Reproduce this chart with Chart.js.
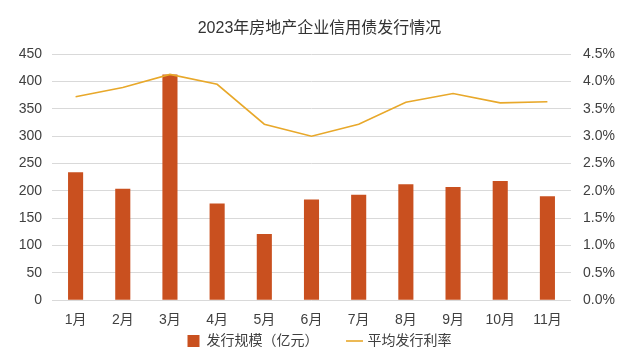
<!DOCTYPE html>
<html><head><meta charset="utf-8">
<script src="https://cdn.jsdelivr.net/npm/chart.js@4"></script>
<style>html,body{margin:0;padding:0;background:#fff}#wrap{width:639px;height:362px}</style>
</head><body><div id="wrap"><canvas id="c"></canvas></div>
<script>
const categories = ["1月","2月","3月","4月","5月","6月","7月","8月","9月","10月","11月"];
const issuance = [234, 204, 413, 177, 121, 184, 193, 212, 207, 218, 190];
const avgRate = [3.72, 3.89, 4.13, 3.95, 3.22, 3.00, 3.22, 3.62, 3.78, 3.61, 3.63];
const leftTicks = [0,50,100,150,200,250,300,350,400,450];
const rightTicks = [0,0.5,1,1.5,2,2.5,3,3.5,4,4.5];
const FONT = "'Liberation Sans', 'Noto Sans CJK SC', sans-serif";
Chart.defaults.font.family = FONT;
Chart.defaults.color = '#404040';
const legendShift = {
  id:'legendShift',
  afterLayout(chart){
    const lg = chart.legend; if(!lg) return;
    lg.top = 304; lg.bottom = chart.height; lg.height = lg.bottom - lg.top;
  }
};
new Chart(document.getElementById('c'), {
  data: {
    labels: categories,
    datasets: [
      {type:'line', label:'平均发行利率', data: avgRate, yAxisID:'y1', borderColor:'#E8A82A', backgroundColor:'#E8A82A', borderWidth:1.6, pointRadius:0, tension:0, pointStyle:'line', order:0},
      {type:'bar', label:'发行规模（亿元）', data: issuance, yAxisID:'y', backgroundColor:'#C9501F', borderWidth:0, categoryPercentage:1, barPercentage:0.32, pointStyle:'rect', order:1}
    ]
  },
  plugins:[legendShift],
  options: {
    responsive:true, maintainAspectRatio:false, animation:false,
    layout:{padding:{left:0,right:0,top:0,bottom:0}},
    plugins:{
      title:{display:true, text:'2023年房地产企业信用债发行情况', font:{size:16, weight:'normal', family:FONT}, color:'#333', padding:{top:19,bottom:16}},
      legend:{position:'bottom', reverse:true, maxHeight:21, labels:{usePointStyle:true, boxWidth:12, boxHeight:12, font:{size:14}, color:'#404040', padding:30}},
      tooltip:{enabled:false}
    },
    scales:{
      x:{grid:{display:false, drawTicks:false}, border:{display:false}, ticks:{font:{size:14}, color:'#404040', padding:12}},
      y:{position:'left', min:0, max:450, afterBuildTicks:a=>{a.ticks=leftTicks.map(v=>({value:v}));},
         grid:{color:'#D9D9D9', drawTicks:false}, border:{display:false},
         ticks:{font:{size:14}, color:'#404040', padding:10},
         afterFit:s=>{s.width=52;}},
      y1:{position:'right', min:0, max:4.5, afterBuildTicks:a=>{a.ticks=rightTicks.map(v=>({value:v}));},
         grid:{display:false, drawTicks:false}, border:{display:false},
         ticks:{font:{size:14}, color:'#404040', padding:12, callback:v=>v.toFixed(1)+'%'},
         afterFit:s=>{s.width=68;}}
    }
  }
});
</script></body></html>
